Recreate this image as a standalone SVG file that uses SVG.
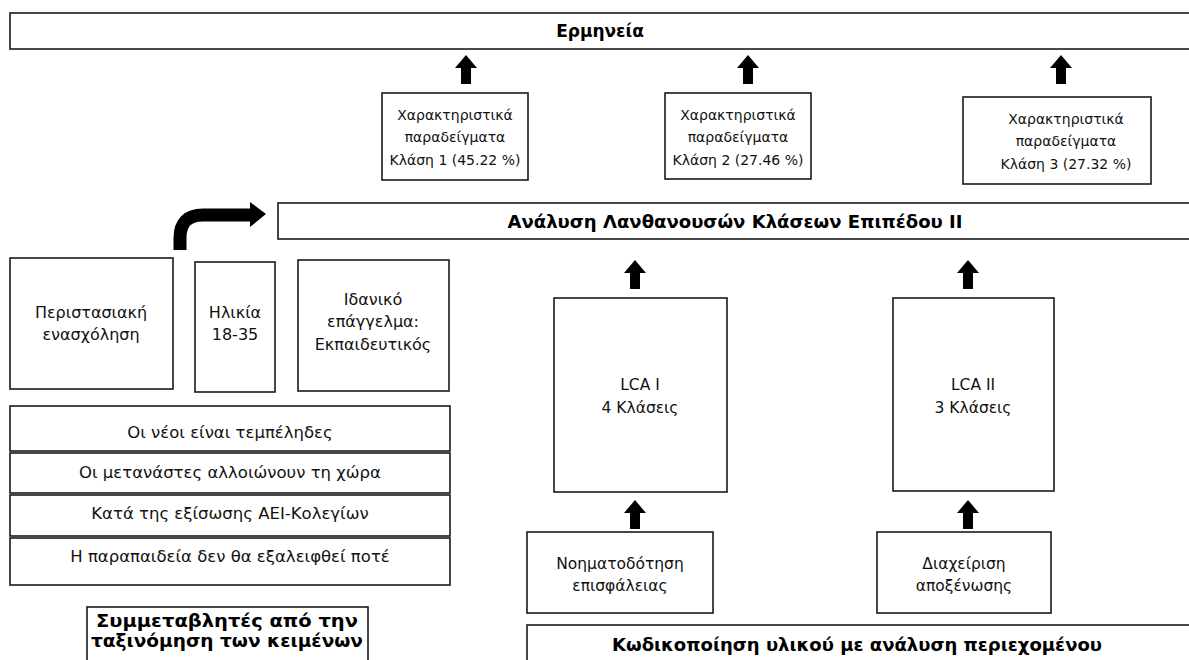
<svg xmlns="http://www.w3.org/2000/svg" xmlns:xlink="http://www.w3.org/1999/xlink" width="1189" height="660" viewBox="0 0 1189 660">
<style>
.box{fill:#fff;stroke:#1a1a1a;stroke-width:1.6}
.t{font-family:"DejaVu Sans","Noto Sans",sans-serif;font-size:14px;fill:#111;text-anchor:middle}
.l{font-size:16px}
.r{font-size:16.5px}
.m{font-size:15.5px}
.b{font-family:"DejaVu Sans","Noto Sans",sans-serif;font-size:17px;font-weight:bold;fill:#000;text-anchor:middle}
.arr{fill:#000}
</style>
<defs>
<path id="up" d="M0,0 L11,13 L5,13 L5,29 L-5,29 L-5,13 L-11,13 Z"/>
</defs>
<rect width="1189" height="660" fill="#fff"/>

<g id="ermineia">
<rect class="box" x="10" y="13" width="1190" height="36"/>
<text class="b" x="600" y="37">Ερμηνεία</text>
</g>

<g id="class1">
<rect class="box" x="382" y="93" width="146" height="87"/>
<text class="t" x="455" y="120">Χαρακτηριστικά</text>
<text class="t" x="455" y="142">παραδείγματα</text>
<text class="t" x="455" y="165">Κλάση 1 (45.22 %)</text>
</g>

<g id="class2">
<rect class="box" x="665" y="93" width="146" height="86"/>
<text class="t" x="738" y="120">Χαρακτηριστικά</text>
<text class="t" x="738" y="142">παραδείγματα</text>
<text class="t" x="738" y="165">Κλάση 2 (27.46 %)</text>
</g>

<g id="class3">
<rect class="box" x="963" y="97" width="188" height="87"/>
<text class="t" x="1066" y="124">Χαρακτηριστικά</text>
<text class="t" x="1066" y="146">παραδείγματα</text>
<text class="t" x="1066" y="169">Κλάση 3 (27.32 %)</text>
</g>

<g id="analysi">
<rect class="box" x="278" y="203" width="920" height="36"/>
<text class="b" x="735" y="228" textLength="455" lengthAdjust="spacingAndGlyphs">Ανάλυση Λανθανουσών Κλάσεων Επιπέδου II</text>
</g>

<g id="peristasiaki">
<rect class="box" x="10" y="258" width="163" height="131"/>
<text class="t l" x="91" y="318">Περιστασιακή</text>
<text class="t l" x="91" y="340">ενασχόληση</text>
</g>

<g id="ilikia">
<rect class="box" x="195" y="262" width="80" height="130"/>
<text class="t l" x="235" y="318">Ηλικία</text>
<text class="t l" x="235" y="340">18-35</text>
</g>

<g id="idaniko">
<rect class="box" x="298" y="260" width="151" height="131"/>
<text class="t l" x="373" y="305">Ιδανικό</text>
<text class="t l" x="373" y="327">επάγγελμα:</text>
<text class="t l" x="373" y="350">Εκπαιδευτικός</text>
</g>

<g id="statements">
<rect class="box" x="10" y="406" width="440" height="45"/>
<text class="t r" x="230" y="438">Οι νέοι είναι τεμπέληδες</text>
<rect class="box" x="10" y="453" width="440" height="40"/>
<text class="t r" x="230" y="478">Οι μετανάστες αλλοιώνουν τη χώρα</text>
<rect class="box" x="10" y="495" width="440" height="41"/>
<text class="t r" x="230" y="519">Κατά της εξίσωσης ΑΕΙ-Κολεγίων</text>
<rect class="box" x="10" y="538" width="440" height="47"/>
<text class="t r" x="230" y="562">Η παραπαιδεία δεν θα εξαλειφθεί ποτέ</text>
</g>

<g id="symmetavlites">
<rect class="box" x="87" y="607" width="281" height="60"/>
<text class="b" x="227" y="627" textLength="262" lengthAdjust="spacingAndGlyphs">Συμμεταβλητές από την</text>
<text class="b" x="227" y="647" textLength="272" lengthAdjust="spacingAndGlyphs">ταξινόμηση των κειμένων</text>
</g>

<g id="lca1">
<rect class="box" x="554" y="298" width="173" height="194"/>
<text class="t m" x="640" y="390">LCA I</text>
<text class="t m" x="640" y="413">4 Κλάσεις</text>
</g>

<g id="lca2">
<rect class="box" x="893" y="298" width="161" height="193"/>
<text class="t m" x="973" y="390">LCA II</text>
<text class="t m" x="973" y="413">3 Κλάσεις</text>
</g>

<g id="noimatodotisi">
<rect class="box" x="527" y="532" width="186" height="81"/>
<text class="t m" x="620" y="569">Νοηματοδότηση</text>
<text class="t m" x="620" y="591">επισφάλειας</text>
</g>

<g id="diaxeirisi">
<rect class="box" x="877" y="532" width="174" height="81"/>
<text class="t m" x="964" y="569">Διαχείριση</text>
<text class="t m" x="964" y="591">αποξένωσης</text>
</g>

<g id="kodikopoiisi">
<rect class="box" x="527" y="625" width="670" height="50"/>
<text class="b" x="857" y="651" textLength="490" lengthAdjust="spacingAndGlyphs">Κωδικοποίηση υλικού με ανάλυση περιεχομένου</text>
</g>

<g id="connectors">
<use xlink:href="#up" href="#up" class="arr" x="466" y="55"/>
<use xlink:href="#up" href="#up" class="arr" x="748" y="55"/>
<use xlink:href="#up" href="#up" class="arr" x="1061" y="55"/>
<use xlink:href="#up" href="#up" class="arr" x="635" y="260"/>
<use xlink:href="#up" href="#up" class="arr" x="968" y="260"/>
<use xlink:href="#up" href="#up" class="arr" x="635" y="500"/>
<use xlink:href="#up" href="#up" class="arr" x="968" y="500"/>
<path d="M180,250 V238 Q180,215 203,215 H252" fill="none" stroke="#000" stroke-width="13"/>
<path d="M250,202 L266,214 L250,227 Z" fill="#000"/>
</g>
</svg>
